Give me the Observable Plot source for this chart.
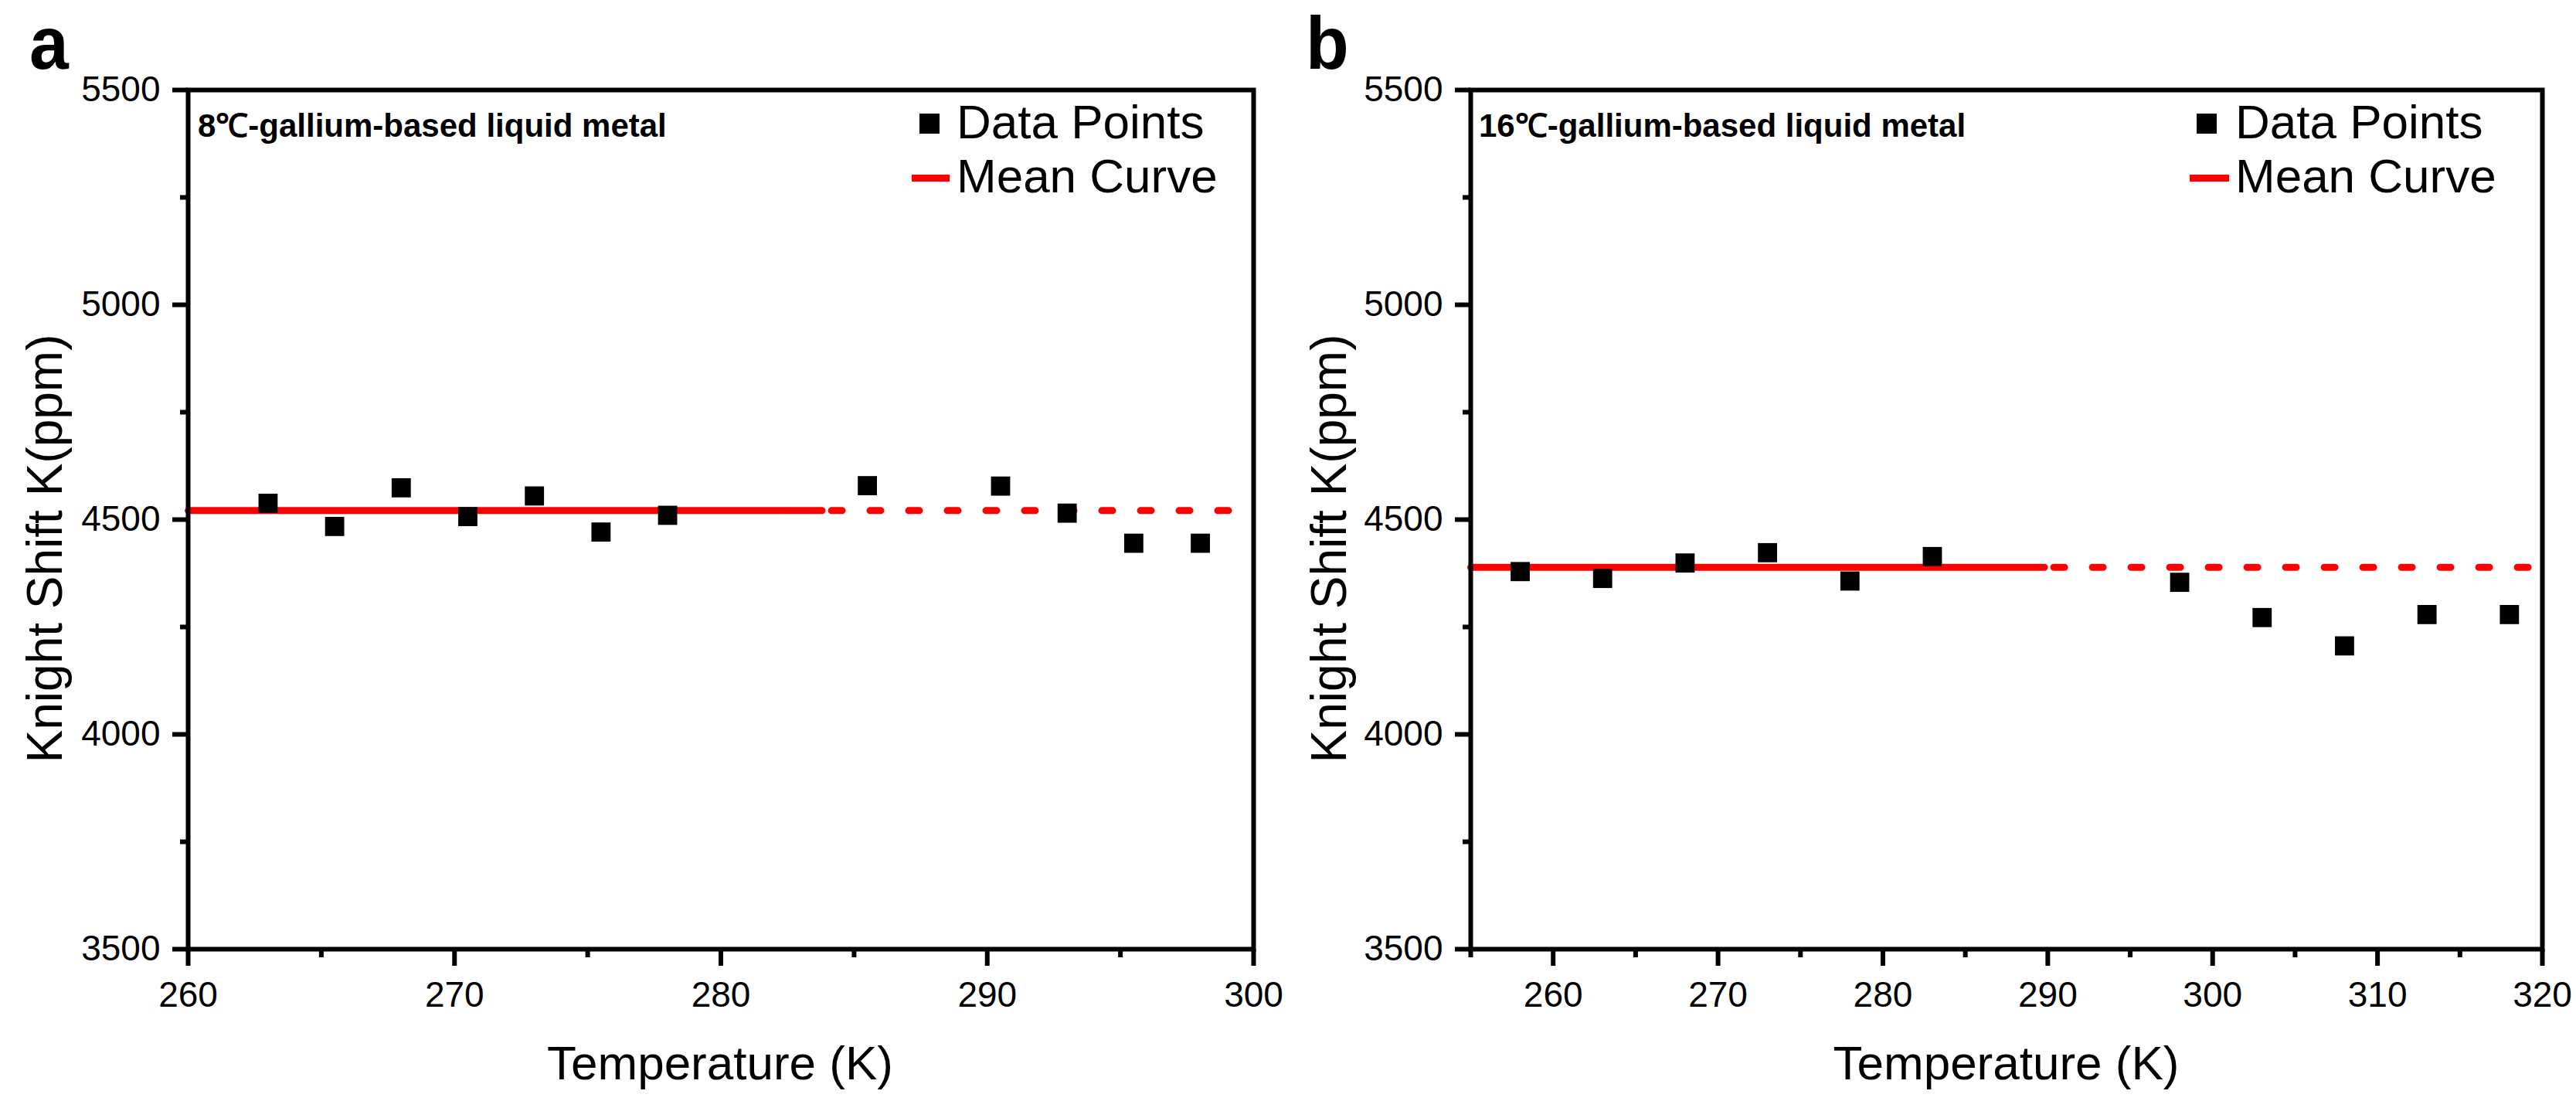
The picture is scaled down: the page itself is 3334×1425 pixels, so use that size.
<!DOCTYPE html>
<html>
<head>
<meta charset="utf-8">
<script src="https://cdn.jsdelivr.net/npm/d3@7"></script>
<script src="https://cdn.jsdelivr.net/npm/@observablehq/plot@0.6"></script>
<style>
  body { margin: 0; background: #fff; }
  #wrap { position: relative; width: 3334px; height: 1425px; font-family: "Liberation Sans", Arial, sans-serif; color: #000; overflow: hidden; }
  .abs { position: absolute; white-space: nowrap; line-height: 1; }
  .panel { position: absolute; top: 0; }
  .panel svg { overflow: visible; }
</style>
</head>
<body>
<div id="wrap"></div>
<script>
// ---------- data ----------
const tempA  = [263, 265.5, 268, 270.5, 273, 275.5, 278, 285.5, 290.5, 293, 295.5, 298];
const shiftA = [4538, 4484, 4574, 4507, 4555, 4471, 4510, 4579, 4578, 4515, 4445, 4445];
const tempB  = [258, 263, 268, 273, 278, 283, 298, 303, 308, 313, 318];
const shiftB = [4379, 4363, 4399, 4423, 4357, 4414, 4354, 4272, 4206, 4279, 4279];
const meanA = 4521, meanB = 4389;
const solidEndA = 283.8, solidEndB = 289.8;
const xDomainA = [260, 300], xDomainB = [255, 320];
const yDomain = [3500, 5500];
const xTicksA = [260, 270, 280, 290, 300];
const xMinorA = [265, 275, 285, 295];
const xTicksB = [260, 270, 280, 290, 300, 310, 320];
const xMinorB = [255, 265, 275, 285, 295, 305, 315];
const yTicks = [3500, 4000, 4500, 5000, 5500];
const yMinor = [3750, 4250, 4750, 5250];
const titleA = "8℃-gallium-based liquid metal";
const titleB = "16℃-gallium-based liquid metal";
const xLabel = "Temperature (K)";
const yLabel = "Knight Shift K(ppm)";
const legendPoints = "Data Points";
const legendMean = "Mean Curve";

const FONT = '"Liberation Sans", Arial, sans-serif';

function panel(cfg) {
  const pts = cfg.temps.map((t, i) => ({T: t, K: cfg.shifts[i]}));
  const solid = [{T: cfg.xDomain[0], K: cfg.mean}, {T: cfg.solidEnd, K: cfg.mean}];
  const dotted = [{T: cfg.solidEnd, K: cfg.mean}, {T: cfg.xDomain[1], K: cfg.mean}];
  return Plot.plot({
    width: 1667,
    height: 1425,
    marginLeft: cfg.ml,
    marginRight: cfg.mr,
    marginTop: 116,
    marginBottom: 197,
    x: {domain: cfg.xDomain},
    y: {domain: yDomain},
    style: {fontFamily: FONT, background: "transparent", color: "#000"},
    marks: [
      Plot.line(dotted, {x: "T", y: "K", stroke: "#ff0000", strokeWidth: 9, strokeDasharray: "14,36", strokeDashoffset: -12}),
      Plot.line(solid, {x: "T", y: "K", stroke: "#ff0000", strokeWidth: 9}),
      Plot.dot(pts, {x: "T", y: "K", symbol: "square", r: 14, fill: "#000", stroke: "none"}),
      Plot.frame({stroke: "#000", strokeWidth: 6}),
      Plot.axisX(cfg.xTicks, {tickSize: 22, strokeWidth: 6, fontSize: 46, tickPadding: 20, tickFormat: d => String(d), label: null}),
      Plot.axisX(cfg.xMinor, {tickSize: 11, strokeWidth: 6, tickFormat: () => "", label: null}),
      Plot.axisY(yTicks, {tickSize: 20, strokeWidth: 6, fontSize: 46, tickPadding: 16, tickFormat: d => String(d), label: null}),
      Plot.axisY(yMinor, {tickSize: 10, strokeWidth: 6, tickFormat: () => "", label: null})
    ]
  });
}

const wrap = document.getElementById("wrap");

function place(el, left) {
  const d = document.createElement("div");
  d.className = "panel";
  d.style.left = left + "px";
  d.appendChild(el);
  wrap.appendChild(d);
}

place(panel({temps: tempA, shifts: shiftA, mean: meanA, solidEnd: solidEndA, xDomain: xDomainA,
             xTicks: xTicksA, xMinor: xMinorA, ml: 243, mr: 45}), 0);
place(panel({temps: tempB, shifts: shiftB, mean: meanB, solidEnd: solidEndB, xDomain: xDomainB,
             xTicks: xTicksB, xMinor: xMinorB, ml: 236, mr: 44}), 1667);

function text(str, css) {
  const d = document.createElement("div");
  d.className = "abs";
  d.textContent = str;
  Object.assign(d.style, css);
  wrap.appendChild(d);
  return d;
}
function box(css) {
  const d = document.createElement("div");
  d.className = "abs";
  Object.assign(d.style, css);
  wrap.appendChild(d);
  return d;
}

// panel letters
text("a", {left: "38px", top: "8px", fontSize: "96px", fontWeight: "bold", transform: "scaleX(0.95)", transformOrigin: "left top"});
text("b", {left: "1690px", top: "8px", fontSize: "96px", fontWeight: "bold", transform: "scaleX(0.95)", transformOrigin: "left top"});

// inner titles
text(titleA, {left: "256px", top: "142px", fontSize: "42px", fontWeight: "bold"});
text(titleB, {left: "1914px", top: "142px", fontSize: "42px", fontWeight: "bold"});

// legends
function legend(sqCx, lineX1, lineX2, textX) {
  box({left: (sqCx - 13) + "px", top: (160 - 13) + "px", width: "26px", height: "26px", background: "#000"});
  text(legendPoints, {left: textX + "px", top: (160 - 33) + "px", fontSize: "62px"});
  box({left: lineX1 + "px", top: (230 - 4.5) + "px", width: (lineX2 - lineX1) + "px", height: "9px", background: "#ff0000"});
  text(legendMean, {left: textX + "px", top: (230 - 33) + "px", fontSize: "62px"});
}
legend(1203, 1180, 1229, 1238);
legend(2856, 2834, 2885, 2893);

// axis titles
function xTitle(cx) {
  const d = text(xLabel, {left: cx + "px", top: "1345px", fontSize: "62px"});
  d.style.transform = "translateX(-50%)";
}
xTitle(932);
xTitle(1667 + (236 + 1623) / 2);

function yTitle(cx) {
  const d = text(yLabel, {left: cx + "px", top: "710px", fontSize: "64px"});
  d.style.transform = "translate(-50%,-50%) rotate(-90deg)";
}
yTitle(58);
yTitle(1720);
</script>
</body>
</html>
